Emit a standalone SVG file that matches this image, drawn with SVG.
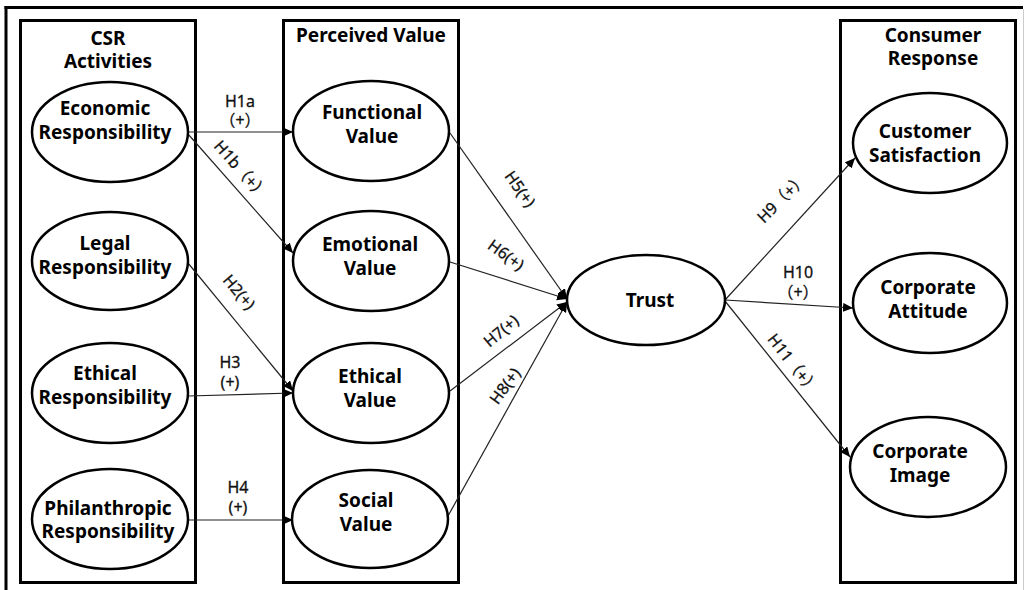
<svg xmlns="http://www.w3.org/2000/svg" width="1026" height="590" viewBox="0 0 1026 590">
  <style>
    .frame { fill: none; stroke: #000; stroke-width: 3; }
    .box { fill: none; stroke: #000; stroke-width: 3; }
    .node { fill: #fff; stroke: #000; stroke-width: 2.5; }
    .title { font-family: "Noto Sans", "Liberation Sans", sans-serif; font-weight: bold; font-size: 19px; text-anchor: middle; fill: #000; }
    .lbl { font-family: "Noto Sans", "Liberation Sans", sans-serif; font-weight: bold; font-size: 19px; text-anchor: middle; fill: #000; }
    .edge { fill: none; stroke: #222; stroke-width: 1.2; }
    .elbl { font-family: "Noto Sans", "Noto Sans CJK KR", sans-serif; font-size: 16px; text-anchor: middle; fill: #111; stroke: #111; stroke-width: 0.3; }
  </style>
  <defs>
    <marker id="arrow" markerUnits="userSpaceOnUse" markerWidth="12" markerHeight="10" refX="10" refY="4.5" orient="auto">
      <path d="M0,0 L10,4.5 L0,9 Z" fill="#000"/>
    </marker>
  </defs>

  <rect width="1026" height="590" fill="#fff"/>

  <!-- outer frame -->
  <line class="frame" x1="4.5" y1="7.5" x2="1023" y2="7.5"/>
  <line class="frame" x1="6" y1="6" x2="6" y2="590"/>
  <line x1="1023.5" y1="9" x2="1023.5" y2="590" stroke="#ccc" stroke-width="1"/>

  <!-- column boxes -->
  <g id="col-csr">
    <rect class="box" x="20.5" y="20.5" width="175" height="562"/>
    <text class="title" x="108" y="45">CSR</text>
    <text class="title" x="108" y="68">Activities</text>
  </g>
  <g id="col-value">
    <rect class="box" x="283.5" y="20.5" width="175" height="562"/>
    <text class="title" x="371" y="42">Perceived Value</text>
  </g>
  <g id="col-response">
    <rect class="box" x="840.5" y="20.5" width="175" height="562"/>
    <text class="title" x="933" y="42">Consumer</text>
    <text class="title" x="933" y="65">Response</text>
  </g>

  <!-- connectors -->
  <g id="connectors">
    <line class="edge" x1="188" y1="132" x2="293" y2="132" marker-end="url(#arrow)" stroke="#000"/>
    <line class="edge" x1="188" y1="134" x2="293" y2="253" marker-end="url(#arrow)"/>
    <line class="edge" x1="188" y1="263" x2="293" y2="391" marker-end="url(#arrow)"/>
    <line class="edge" x1="188" y1="396" x2="293" y2="393" marker-end="url(#arrow)" stroke="#000"/>
    <line class="edge" x1="188" y1="520" x2="293" y2="520" marker-end="url(#arrow)" stroke="#000"/>

    <line class="edge" x1="450" y1="133" x2="567" y2="299" marker-end="url(#arrow)"/>
    <line class="edge" x1="450" y1="262" x2="567" y2="299" marker-end="url(#arrow)"/>
    <line class="edge" x1="450" y1="391" x2="567" y2="302" marker-end="url(#arrow)"/>
    <line class="edge" x1="448" y1="516" x2="567" y2="302" marker-end="url(#arrow)"/>

    <line class="edge" x1="725" y1="300" x2="855" y2="158" marker-end="url(#arrow)"/>
    <line class="edge" x1="725" y1="300" x2="853" y2="308" marker-end="url(#arrow)"/>
    <line class="edge" x1="725" y1="301" x2="850" y2="457" marker-end="url(#arrow)"/>

    <!-- hypothesis labels -->
    <text class="elbl" x="240" y="107">H1a</text>
    <text class="elbl" x="240" y="126">（+）</text>
    <text class="elbl" transform="translate(241,170) rotate(48.8)" dy="0.35em">H1b（+）</text>
    <text class="elbl" transform="translate(239,292) rotate(50)" dy="0.35em">H2(+)</text>
    <text class="elbl" x="230" y="368">H3</text>
    <text class="elbl" x="230" y="388">(+)</text>
    <text class="elbl" x="238" y="493">H4</text>
    <text class="elbl" x="238" y="513">(+)</text>
    <text class="elbl" transform="translate(520,189) rotate(54.7)" dy="0.35em">H5(+)</text>
    <text class="elbl" transform="translate(506,255) rotate(36)" dy="0.35em">H6(+)</text>
    <text class="elbl" transform="translate(501,331) rotate(-40)" dy="0.35em">H7(+)</text>
    <text class="elbl" transform="translate(505,386) rotate(-54)" dy="0.35em">H8(+)</text>
    <text class="elbl" transform="translate(782,198) rotate(-45)" dy="0.35em">H9（+）</text>
    <text class="elbl" x="798" y="278">H10</text>
    <text class="elbl" x="798" y="298">（+）</text>
    <text class="elbl" transform="translate(793,364) rotate(52)" dy="0.35em">H11（+）</text>
  </g>

  <!-- CSR activities -->
  <g id="economic">
    <ellipse class="node" cx="110" cy="132" rx="78" ry="50"/>
    <text class="lbl" x="105" y="115">Economic</text>
    <text class="lbl" x="105" y="139">Responsibility</text>
  </g>
  <g id="legal">
    <ellipse class="node" cx="110" cy="261" rx="78" ry="49"/>
    <text class="lbl" x="105" y="250">Legal</text>
    <text class="lbl" x="105" y="274">Responsibility</text>
  </g>
  <g id="ethical-resp">
    <ellipse class="node" cx="110" cy="393" rx="78" ry="50"/>
    <text class="lbl" x="105" y="380">Ethical</text>
    <text class="lbl" x="105" y="404">Responsibility</text>
  </g>
  <g id="philanthropic">
    <ellipse class="node" cx="110" cy="519" rx="78" ry="50"/>
    <text class="lbl" x="108" y="515">Philanthropic</text>
    <text class="lbl" x="108" y="538">Responsibility</text>
  </g>

  <!-- perceived value -->
  <g id="functional">
    <ellipse class="node" cx="371" cy="131" rx="78" ry="50"/>
    <text class="lbl" x="372" y="119">Functional</text>
    <text class="lbl" x="372" y="143">Value</text>
  </g>
  <g id="emotional">
    <ellipse class="node" cx="371" cy="261" rx="78" ry="50"/>
    <text class="lbl" x="370" y="251">Emotional</text>
    <text class="lbl" x="370" y="275">Value</text>
  </g>
  <g id="ethical-value">
    <ellipse class="node" cx="371" cy="393" rx="78" ry="50"/>
    <text class="lbl" x="370" y="383">Ethical</text>
    <text class="lbl" x="370" y="407">Value</text>
  </g>
  <g id="social">
    <ellipse class="node" cx="370" cy="519" rx="78" ry="49"/>
    <text class="lbl" x="366" y="507">Social</text>
    <text class="lbl" x="366" y="531">Value</text>
  </g>

  <!-- trust -->
  <g id="trust">
    <ellipse class="node" cx="646" cy="300" rx="79" ry="45"/>
    <text class="lbl" x="650" y="307">Trust</text>
  </g>

  <!-- consumer response -->
  <g id="satisfaction">
    <ellipse class="node" cx="930" cy="143" rx="77" ry="50"/>
    <text class="lbl" x="925" y="138">Customer</text>
    <text class="lbl" x="925" y="162">Satisfaction</text>
  </g>
  <g id="attitude">
    <ellipse class="node" cx="930" cy="303" rx="77" ry="50"/>
    <text class="lbl" x="928" y="294">Corporate</text>
    <text class="lbl" x="928" y="318">Attitude</text>
  </g>
  <g id="image">
    <ellipse class="node" cx="928" cy="467" rx="78" ry="50"/>
    <text class="lbl" x="920" y="458">Corporate</text>
    <text class="lbl" x="920" y="482">Image</text>
  </g>
</svg>
